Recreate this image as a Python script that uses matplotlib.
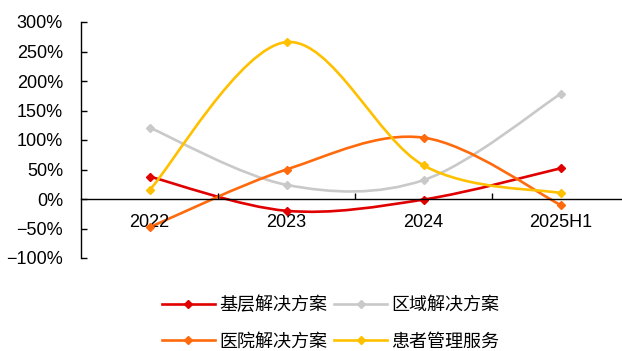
import matplotlib
matplotlib.use("Agg")
import matplotlib.pyplot as plt
from matplotlib.path import Path
from matplotlib.patches import PathPatch
from matplotlib.lines import Line2D
from matplotlib.ticker import PercentFormatter
import numpy as np

plt.rcParams['font.family'] = ['Liberation Sans', 'Noto Sans CJK SC', 'DejaVu Sans']

# data (growth rate, %)
years = ["2022", "2023", "2024", "2025H1"]
jiceng = [38, -20, -1, 52]      # 基层解决方案
quyu = [121, 24, 32, 178]       # 区域解决方案
yiyuan = [-48, 50, 104, -10]    # 医院解决方案
huanzhe = [15, 266, 57, 10]     # 患者管理服务

names = ["基层解决方案", "区域解决方案", "医院解决方案", "患者管理服务"]
series = [jiceng, quyu, yiyuan, huanzhe]
colors = ["#E00000", "#C9C9C9", "#FF6A0D", "#FFC000"]


def smooth_path(x, y):
    # Excel style smoothed line: cubic bezier through every point
    pts = np.column_stack([x, y]).astype(float)
    ext = np.vstack([pts[0], pts, pts[-1]])
    verts = [pts[0]]
    codes = [Path.MOVETO]
    for i in range(len(pts) - 1):
        p0, p1, p2, p3 = ext[i], ext[i + 1], ext[i + 2], ext[i + 3]
        verts += [p1 + (p2 - p0) / 6, p2 - (p3 - p1) / 6, p2]
        codes += [Path.CURVE4] * 3
    return Path(verts, codes)


fig = plt.figure(figsize=(6.22, 3.51), dpi=100)
ax = fig.add_axes([81 / 622, 1 - 258 / 351, 548 / 622, 236 / 351])

x = np.arange(len(years))
handles = []
for name, vals, c in zip(names, series, colors):
    ax.add_patch(PathPatch(smooth_path(x, vals), fill=False, edgecolor=c,
                           lw=1.9, capstyle='round', joinstyle='round'))
    ax.plot(x, vals, ls='none', marker='D', ms=4.5, color=c)
    handles.append(Line2D([], [], color=c, lw=1.9, marker='D', ms=4.5,
                          label=name))

ax.set_xlim(-0.5, 3.5)
ax.set_ylim(-100, 300)
ax.set_yticks(np.arange(-100, 301, 50))
ax.yaxis.set_major_formatter(PercentFormatter(decimals=0))

ax.spines['top'].set_visible(False)
ax.spines['right'].set_visible(False)
ax.spines['bottom'].set_position(('data', 0))
ax.spines['left'].set_linewidth(1.0)
ax.spines['bottom'].set_linewidth(1.0)

ax.set_xticks(x)
ax.set_xticklabels(years)
ax.set_xticks([0.5, 1.5, 2.5], minor=True)
ax.tick_params(axis='x', which='major', length=0, pad=11, labelsize=13)
ax.tick_params(axis='x', which='minor', direction='in', length=4.5, width=1.0)
ax.tick_params(axis='y', direction='in', length=4.5, width=1.0, pad=13,
               labelsize=13)

order = [0, 2, 1, 3]
fig.legend([handles[i] for i in order], [names[i] for i in order],
           ncol=2, loc='lower left', bbox_to_anchor=(146 / 622, -0.045),
           frameon=False, fontsize=13, handlelength=2.9, handletextpad=0.25,
           columnspacing=0.4, labelspacing=1.08)

fig.savefig("out.png", dpi=100)
